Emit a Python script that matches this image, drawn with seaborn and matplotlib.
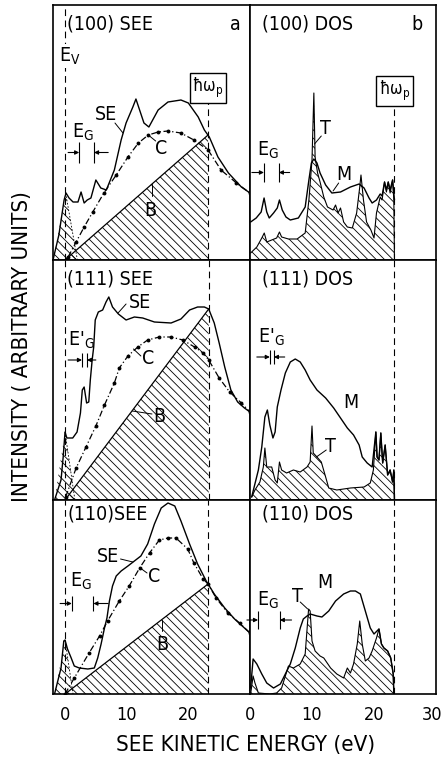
import matplotlib
matplotlib.use("Agg")
import matplotlib.pyplot as plt
import seaborn as sns
from matplotlib.ticker import MultipleLocator
from matplotlib.transforms import ScaledTranslation

# ---------------- data (energy in eV, intensity in arbitrary units) ----------------
# (100) SEE
see100_se_E = [-1.95, -1.0, -0.15, 0.16, 0.65, 1.3, 2.1, 2.6, 3.1, 3.6, 4.2, 5.0, 5.8, 6.7, 8.0, 9.1, 9.9,
               11.0, 11.5, 12.8, 13.6, 15.1, 16.7, 18.8, 20.0, 21.6, 22.6, 23.4, 24.8, 26.5, 28.6, 30.0]
see100_se_I = [0, 25, 60, 67, 62, 58, 58, 68, 57, 60, 62, 80, 72, 70, 90, 120, 137,
               153, 161, 137, 133, 150, 158, 160, 157, 143, 130, 123, 103, 87, 73, 67]
see100_c_E = [0.5, 1.8, 3.1, 4.5, 6.3, 8.3, 10.2, 11.9, 13.5, 15.1, 16.7, 18.8, 20.9, 23.2, 25.3, 27.8, 30.0]
see100_c_I = [3, 18, 33, 48, 67, 85, 103, 117, 125, 128, 129, 127, 120, 110, 90, 77, 67]
see100_b_E = [0.0, 23.2]
see100_b_I = [0, 125]
see100_pk_E = [-1.9, 0.1, 2.0]
see100_pk_I = [0, 67, 0]

# (100) DOS
dos100_m_E = [0.1, 1.0, 1.8, 2.27, 2.7, 3.1, 3.8, 4.4, 4.75, 5.2, 5.8, 6.5, 7.8, 8.9, 9.5, 9.9, 10.3, 10.8,
              11.3, 12.2, 13.2, 14.6, 16.2, 17.6, 18.4, 19.2, 19.7, 20.4, 21.0, 21.3, 21.7, 22.0, 22.3,
              22.6, 23.0, 23.3]
dos100_m_I = [38, 42, 48, 62, 48, 42, 47, 52, 60, 50, 43, 40, 42, 53, 80, 97, 101, 97,
              87, 75, 67, 68, 73, 76, 72, 62, 57, 60, 66, 64, 78, 70, 78,
              70, 80, 60]
dos100_t_E = [0.1, 1.1, 1.9, 2.3, 2.7, 3.5, 4.3, 4.75, 5.1, 6.2, 7.6, 8.9, 9.5, 10.0, 10.3, 10.5, 10.9,
              11.3, 11.9, 12.5, 13.4, 13.8, 14.2, 14.6, 15.1, 15.7, 16.5, 17.2, 17.7, 17.9, 18.3, 18.8,
              19.5, 20.0, 20.4, 21.0, 21.3, 21.7, 22.0, 22.3, 22.6, 23.0, 23.2, 23.3]
dos100_t_I = [7, 13, 22, 27, 18, 20, 22, 28, 23, 21, 21, 27, 60, 100, 167, 103, 87,
              78, 63, 53, 50, 55, 47, 52, 38, 33, 32, 47, 73, 85, 60, 38,
              30, 22, 47, 63, 60, 78, 68, 78, 67, 80, 60, 0]

# (111) SEE
see111_se_E = [-1.7, -0.65, -0.3, 0.0, 0.3, 1.25, 1.95, 2.5, 2.8, 3.1, 3.5, 3.85, 4.1, 4.4, 4.65, 4.9, 5.4,
               6.1, 6.65, 7.1, 7.7, 8.65, 9.9, 11.25, 12.6, 14.5, 17.2, 18.8, 20.2, 21.5, 22.6, 23.3,
               24.2, 25.0, 25.9, 26.9, 28.0, 29.1, 30.0]
see111_se_I = [0, 20, 43, 68, 62, 62, 68, 87, 110, 113, 97, 98, 120, 140, 153, 180, 188,
               190, 198, 203, 193, 186, 180, 183, 182, 178, 177, 181, 190, 193, 193, 191,
               177, 157, 133, 110, 98, 92, 88]
see111_c_E = [0.1, 1.8, 3.4, 5.0, 6.4, 8.0, 8.8, 10.2, 11.8, 13.4, 15.3, 17.2, 19.1, 21.0, 22.4, 23.3,
              25.0, 26.7, 28.6, 30.0]
see111_c_I = [3, 32, 53, 74, 95, 117, 132, 144, 153, 160, 163, 163, 160, 153, 147, 140,
              122, 108, 97, 88]
see111_b_E = [0.0, 23.3]
see111_b_I = [0, 191]
see111_pk_E = [-1.7, 0.0, 1.6]
see111_pk_I = [0, 68, 0]

# (111) DOS
dos111_m_E = [0.27, 1.35, 1.9, 2.4, 2.8, 3.2, 3.7, 4.05, 4.4, 5.0, 5.7, 6.5, 7.3, 8.1, 8.9, 9.7, 10.8,
              12.2, 13.5, 14.6, 15.7, 16.7, 17.6, 18.1, 18.9, 19.7, 20.3, 20.5, 20.8, 21.1, 21.4, 21.8,
              22.2, 22.6, 23.0, 23.2, 23.3]
dos111_m_I = [3, 30, 53, 83, 90, 75, 62, 68, 93, 110, 127, 138, 141, 138, 130, 120, 110,
              102, 92, 82, 72, 65, 55, 43, 37, 33, 68, 43, 40, 67, 37, 55,
              25, 30, 18, 30, 0]
dos111_t_E = [0.27, 0.8, 1.6, 2.15, 2.4, 2.7, 3.5, 4.05, 4.4, 4.75, 5.1, 5.9, 7.0, 8.1, 9.2, 9.7, 10.0,
              10.2, 10.8, 11.5, 12.2, 12.7, 14.0, 16.2, 18.4, 19.4, 19.9, 20.3, 20.5, 20.8, 21.1, 21.4,
              21.8, 22.2, 22.6, 23.0, 23.2, 23.3]
dos111_t_I = [3, 10, 18, 33, 52, 33, 33, 20, 17, 38, 30, 27, 30, 28, 33, 38, 74,
              47, 43, 38, 23, 12, 10, 12, 13, 17, 30, 68, 43, 40, 67, 37,
              55, 25, 30, 18, 30, 0]

# (110) SEE
see110_se_E = [-1.7, -0.65, -0.2, 0.0, 0.4, 1.0, 1.5, 2.3, 3.7, 4.75, 5.3, 5.85, 6.4, 6.8, 7.2, 7.7, 8.3,
               9.1, 10.2, 11.25, 12.3, 13.4, 14.5, 15.6, 16.7, 17.8, 18.8, 20.2, 21.5, 22.9, 24.2, 25.9,
               27.5, 29.1, 30.0]
see110_se_I = [0, 26, 53, 54, 45, 36, 28, 26, 25, 26, 36, 50, 66, 76, 93, 108, 118,
               123, 128, 133, 138, 150, 170, 186, 191, 188, 173, 150, 130, 113, 100, 86,
               75, 66, 61]
see110_c_E = [0.0, 1.5, 3.9, 5.6, 6.9, 8.8, 10.4, 12.1, 13.7, 15.3, 16.7, 18.0, 19.9, 20.9, 22.4, 23.2,
              24.5, 26.4, 28.3, 30.0]
see110_c_I = [0, 16, 41, 58, 73, 93, 108, 126, 141, 154, 156, 156, 145, 131, 115, 110,
              96, 81, 71, 61]
see110_b_E = [0.0, 23.2]
see110_b_I = [0, 110]
see110_pk_E = [-1.7, 0.0, 1.3]
see110_pk_I = [0, 54, 0]

# (110) DOS
dos110_m_E = [0.1, 0.5, 1.1, 1.9, 2.7, 3.8, 4.9, 5.7, 6.5, 7.3, 8.1, 8.6, 9.2, 9.7, 10.8, 11.6, 12.7,
              13.8, 15.1, 16.2, 17.0, 17.8, 18.6, 19.4, 20.0, 20.8, 21.2, 21.6, 22.2, 22.7, 23.1, 23.2]
dos110_m_I = [6, 35, 30, 20, 11, 6, 10, 20, 30, 46, 66, 75, 78, 80, 78, 77, 83,
              93, 100, 103, 103, 100, 83, 66, 60, 65, 50, 46, 43, 36, 20, 0]
dos110_t_E = [0.1, 0.5, 0.8, 1.35, 3.2, 4.3, 5.1, 5.8, 6.2, 7.0, 8.1, 8.9, 9.45, 9.7, 10.0, 10.5, 11.3,
              11.9, 13.0, 14.0, 15.1, 15.7, 16.2, 16.7, 17.3, 17.7, 18.1, 18.6, 19.2, 19.7, 20.4, 20.8,
              21.2, 21.6, 22.2, 22.7, 23.1, 23.2]
dos110_t_I = [0, 18, 11, 1, 0, 1, 6, 20, 28, 26, 30, 40, 85, 83, 53, 43, 38,
              36, 26, 20, 16, 26, 21, 30, 50, 73, 50, 33, 36, 43, 56, 65,
              50, 46, 43, 36, 20, 0]

row_titles_see = ["(100) SEE", "(111) SEE", "(110)SEE"]
row_titles_dos = ["(100) DOS", "(111) DOS", "(110) DOS"]
xticks_left = [0, 10, 20]
xticks_right = [0, 10, 20, 30]
E_PLASMON = 23.2
XLABEL = "SEE KINETIC ENERGY (eV)"
YLABEL = "INTENSITY ( ARBITRARY UNITS)"

# ---------------- style ----------------
sns.set_style("white")
plt.rcParams["font.family"] = ["DejaVu Sans"]
plt.rcParams["font.stretch"] = "condensed"
plt.rcParams["hatch.linewidth"] = 0.6
plt.rcParams["axes.linewidth"] = 1.2
plt.rcParams["text.color"] = "black"
plt.rcParams["xtick.color"] = "black"
plt.rcParams["xtick.labelcolor"] = "black"
plt.rcParams["axes.edgecolor"] = "black"
HATCH = "\\\\\\\\"
DASH = (0, (6, 4))

W, H = 445, 765
fig = plt.figure(figsize=(W / 100, H / 100), dpi=100)
fig.patch.set_facecolor("white")

rows_px = [(5, 260), (260, 500), (500, 694)]
cols_px = [(52.7, 250), (250, 436)]


def px_axes(x0, y0, x1, y1):
    return fig.add_axes([x0 / W, 1 - y1 / H, (x1 - x0) / W, (y1 - y0) / H])


def line(ax, x, y, **kw):
    sns.lineplot(x=x, y=y, ax=ax, sort=False, estimator=None, color="k", legend=False, **kw)


def setup(ax, xlim, ymax, ticks, bottom_row):
    ax.set_xlim(*xlim)
    ax.set_ylim(0, ymax)
    ax.set_yticks([])
    ax.set_xticks(ticks)
    ax.xaxis.set_minor_locator(MultipleLocator(2))
    ax.tick_params(axis="x", which="major", direction="in", length=5, width=0.8, color="k",
                   labelcolor="k", labelsize=13, pad=9, labelbottom=bottom_row)
    ax.tick_params(axis="x", which="minor", direction="in", length=3, width=0.8, color="k")
    ax.set_xlabel("")
    ax.set_ylabel("")
    for s in ax.spines.values():
        s.set_color("k")
        s.set_linewidth(1.2)
    ax.set_facecolor("white")


def label(ax, x, y, s, size=14, ha="center", **kw):
    ax.text(x, y, s, fontsize=size, ha=ha, va="center", color="k", zorder=6, **kw)


def leader(ax, p0, p1):
    ax.plot([p0[0], p1[0]], [p0[1], p1[1]], color="k", lw=0.7, zorder=6)


def gap_marker(ax, e1, e2, h0, h1, a_from_left, a_from_right, text, tx, ty):
    ax.vlines([e1, e2], h0, h1, colors="k", lw=0.8, zorder=6)
    hm = (h0 + h1) / 2
    for start, end in [(a_from_left, e1), (a_from_right, e2)]:
        ax.annotate("", xy=(end, hm), xytext=(start, hm), annotation_clip=False,
                    arrowprops=dict(arrowstyle="-|>", lw=0.8, color="k", mutation_scale=6,
                                    shrinkA=0, shrinkB=0), zorder=6)
    label(ax, tx, ty, text, size=14, ha="left")


def plasmon_box(ax, x, y):
    ax.text(x, y, "ħω$_\\mathregular{p}$", fontsize=12, ha="center", va="center", zorder=7,
            color="k", bbox=dict(boxstyle="square,pad=0.15", fc="white", ec="k", lw=1.0))


see_data = [
    (see100_se_E, see100_se_I, see100_c_E, see100_c_I, see100_b_E, see100_b_I, see100_pk_E, see100_pk_I),
    (see111_se_E, see111_se_I, see111_c_E, see111_c_I, see111_b_E, see111_b_I, see111_pk_E, see111_pk_I),
    (see110_se_E, see110_se_I, see110_c_E, see110_c_I, see110_b_E, see110_b_I, see110_pk_E, see110_pk_I),
]
dos_data = [
    (dos100_m_E, dos100_m_I, dos100_t_E, dos100_t_I),
    (dos111_m_E, dos111_m_I, dos111_t_E, dos111_t_I),
    (dos110_m_E, dos110_m_I, dos110_t_E, dos110_t_I),
]

axes = []
for r, (y0, y1) in enumerate(rows_px):
    ymax = y1 - y0
    bottom = r == 2
    # ----- SEE panel -----
    axL = px_axes(cols_px[0][0], y0, cols_px[0][1], y1)
    se_E, se_I, c_E, c_I, b_E, b_I, pk_E, pk_I = see_data[r]
    axL.fill_between(b_E, b_I, 0, facecolor="none", edgecolor="k", hatch=HATCH, lw=0, zorder=1)
    axL.fill_between(pk_E, pk_I, 0, facecolor="none", edgecolor="k", hatch=HATCH, lw=0, zorder=1)
    line(axL, pk_E[1:], pk_I[1:], lw=0.6, linestyle=(0, (2, 2)))
    line(axL, b_E, b_I, lw=0.9)
    line(axL, se_E, se_I, lw=1.0)
    line(axL, c_E, c_I, lw=0.9, linestyle=(0, (5, 2, 1, 2)), marker="o", markersize=2.8,
         markeredgewidth=0, markerfacecolor="k")
    axL.axvline(0, color="k", lw=0.8, linestyle=DASH, zorder=2)
    setup(axL, (-2, 30), ymax, xticks_left, bottom)
    label(axL, 0.4, ymax - 19 if r < 2 else ymax - 14, row_titles_see[r], ha="left")
    # ----- DOS panel -----
    axR = px_axes(cols_px[1][0], y0, cols_px[1][1], y1)
    m_E, m_I, t_E, t_I = dos_data[r]
    axR.fill_between(t_E, t_I, 0, facecolor="none", edgecolor="k", hatch=HATCH, lw=0, zorder=1)
    line(axR, t_E, t_I, lw=0.8)
    line(axR, m_E, m_I, lw=1.0)
    setup(axR, (0, 30), ymax, xticks_right, bottom)
    label(axR, 1.9, ymax - 19 if r < 2 else ymax - 14, row_titles_dos[r], ha="left")
    axes.append((axL, axR))

# keep the last tick label ("30") inside the picture
last = axes[2][1].get_xticklabels()[-1]
last.set_transform(last.get_transform() + ScaledTranslation(-4 / 100, 0, fig.dpi_scale_trans))

# ----- row 1 annotations -----
axL, axR = axes[0]
axL.vlines(E_PLASMON, 0, 160, colors="k", lw=0.8, linestyles=[DASH], zorder=2)
axR.vlines(23.3, 0, 158, colors="k", lw=0.8, linestyles=[DASH], zorder=2)
plasmon_box(axL, 23.2, 172)
plasmon_box(axR, 23.3, 169)
label(axL, 27.6, 236, "a")
label(axR, 27.0, 236, "b")
axL.text(-0.9, 204, "E$_\\mathregular{V}$", fontsize=14, ha="left", va="center", zorder=7, color="k",
         bbox=dict(boxstyle="square,pad=0.05", fc="white", ec="none"))
gap_marker(axL, 2.3, 4.7, 97, 118, 0.5, 7.0, "E$_\\mathregular{G}$", 1.1, 128)
label(axL, 6.6, 146, "SE")
leader(axL, (8.1, 137), (9.4, 127))
label(axL, 15.6, 111, "C")
leader(axL, (14.7, 119), (13.5, 125))
label(axL, 13.9, 50, "B")
leader(axL, (14.1, 64), (14.1, 76))
gap_marker(axR, 2.25, 4.65, 78, 97, 0.3, 6.4, "E$_\\mathregular{G}$", 1.1, 110)
label(axR, 12.2, 131, "T")
leader(axR, (11.5, 124), (10.4, 116))
label(axR, 15.2, 86, "M")
leader(axR, (14.3, 77), (13.4, 69))

# ----- row 2 annotations -----
axL, axR = axes[1]
axL.axvline(E_PLASMON + 0.1, color="k", lw=0.8, linestyle=DASH, zorder=2)
axR.axvline(23.3, color="k", lw=0.8, linestyle=DASH, zorder=2)
gap_marker(axL, 2.75, 3.55, 133, 147, 0.5, 5.0, "E'$_\\mathregular{G}$", 0.5, 160)
label(axL, 12.2, 197, "SE")
leader(axL, (9.9, 196), (8.6, 187))
label(axL, 13.5, 141, "C")
leader(axL, (12.3, 144), (11.1, 151))
label(axL, 15.3, 84, "B")
leader(axL, (14.1, 86), (10.9, 89))
gap_marker(axR, 3.2, 3.85, 136, 150, 1.1, 5.6, "E'$_\\mathregular{G}$", 1.3, 163)
label(axR, 16.2, 98, "M")
label(axR, 13.0, 53, "T")
leader(axR, (12.3, 50), (10.7, 43))

# ----- row 3 annotations -----
axL, axR = axes[2]
axL.axvline(E_PLASMON, color="k", lw=0.8, linestyle=DASH, zorder=2)
axR.axvline(23.3, color="k", lw=0.8, linestyle=DASH, zorder=2)
gap_marker(axL, 1.1, 4.6, 83, 98, -0.8, 7.0, "E$_\\mathregular{G}$", 0.8, 113)
label(axL, 7.0, 137, "SE")
leader(axL, (9.0, 135), (11.0, 132))
label(axL, 14.4, 118, "C")
leader(axL, (13.3, 121), (12.2, 126))
label(axL, 15.7, 50, "B")
leader(axL, (15.7, 63), (15.7, 74))
gap_marker(axR, 1.3, 4.8, 65, 83, -0.5, 6.7, "E$_\\mathregular{G}$", 1.1, 94)
label(axR, 12.0, 111, "M")
label(axR, 7.7, 98, "T")
leader(axR, (8.1, 92), (9.3, 85))

fig.text(246 / W, 1 - 745 / H, XLABEL, fontsize=16, ha="center", va="center", color="k")
fig.text(22 / W, 1 - 347 / H, YLABEL, fontsize=16, ha="center", va="center", rotation=90, color="k")

fig.savefig("out.png", dpi=100, facecolor="white")
